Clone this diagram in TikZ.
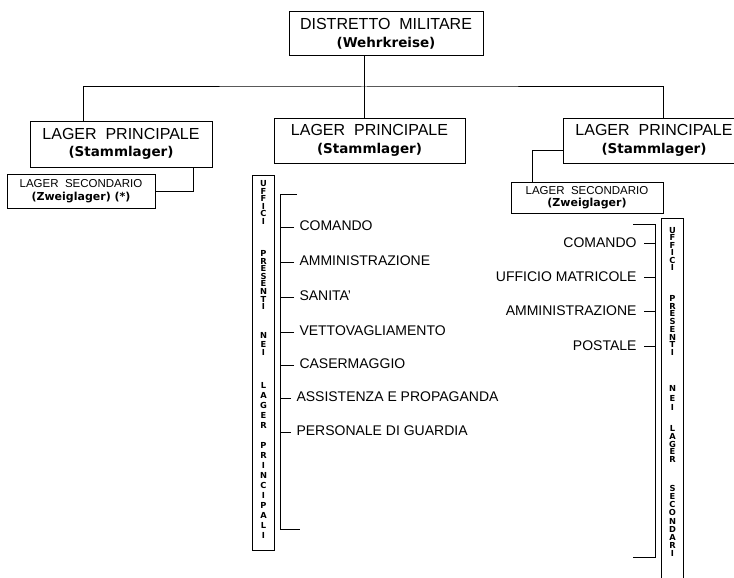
\documentclass[tikz,border=0pt]{standalone}
\usepackage{fontspec}
\setmainfont{Liberation Sans}
\newfontfamily\dejavu{DejaVu Sans}
\newcommand{\ger}[2][13.5]{{\dejavu\bfseries\fontsize{#1}{#1}\selectfont #2}}

\begin{document}
\begin{tikzpicture}[x=1pt,y=-1pt,line width=1pt,
      main box/.style={draw,inner sep=0pt,align=center,font=\fontsize{16}{17.5}\selectfont},
      small box/.style={draw,inner sep=0pt,align=center,font=\fontsize{11.5}{12.5}\selectfont},
      office/.style={inner sep=0pt,font=\fontsize{14}{16}\selectfont},
      column/.style={draw,inner sep=0pt,minimum width=22pt},
      letters/.style={inner sep=0pt,align=center,anchor=north,
        font=\dejavu\bfseries\fontsize{8.3}{#1}\selectfont}]

    \useasboundingbox (0,0) rectangle (734,578);

    % boxes
    \node[main box,minimum width=194pt,minimum height=44pt] (dm) at (386,34) {DISTRETTO\ \ MILITARE\\\ger{(Wehrkreise)}};
    \node[main box,minimum width=182pt,minimum height=46pt] (lp1) at (121,144) {LAGER\ \ PRINCIPALE\\\ger{(Stammlager)}};
    \node[main box,minimum width=191pt,minimum height=45pt] (lp2) at (369.5,140.5) {LAGER\ \ PRINCIPALE\\\ger{(Stammlager)}};
    \node[main box,minimum width=182pt,minimum height=45pt] (lp3) at (654,140.5) {LAGER\ \ PRINCIPALE\\\ger{(Stammlager)}};
    \node[small box,minimum width=148pt,minimum height=34pt] (ls1) at (81,191) {LAGER\ \ SECONDARIO\\\ger[11]{(Zweiglager) (*)}};
    \node[small box,minimum width=152pt,minimum height=31pt] (ls3) at (587,197.5) {LAGER\ \ SECONDARIO\\\ger[11]{(Zweiglager)}};

    \coordinate (hub) at (364,87);
    \draw (dm.south -| hub) -- (lp2.north -| hub);
    \draw ([xshift=-38pt]lp1.north) |- (hub) -| ([xshift=9pt]lp3.north);
    \draw (ls1.east) -| ([xshift=72pt]lp1.south);
    \draw ([yshift=-10pt]lp3.west) -| ([xshift=-55pt]ls3.north);

    % uffici nei lager principali
    \node[column,minimum height=375pt] (col2) at (263.5,362.5) {};
    \node[letters=7.6] (w21) at (263.5,180) {U\\F\\F\\I\\C\\I};
    \node[letters=7.6] (w22) at (263.5,250) {P\\R\\E\\S\\E\\N\\T\\I};
    \node[letters=8.5] (w23) at (263.5,332) {N\\E\\I};
    \node[letters=10] (w24) at (263.5,382) {L\\A\\G\\E\\R};
    \node[letters=10] (w25) at (263.5,442) {P\\R\\I\\N\\C\\I\\P\\A\\L\\I};

    \coordinate (b2t) at (280,194);
    \coordinate (b2b) at (280,529);
    \draw ([xshift=17pt]b2t) -- (b2t) -- (b2b) -- ([xshift=20pt]b2b);

    \node[office,anchor=base west] (c1) at (299,230) {COMANDO};
    \node[office,anchor=base west] (c2) at (299,265) {AMMINISTRAZIONE};
    \node[office,anchor=base west] (c3) at (299,300) {SANITA’};
    \node[office,anchor=base west] (c4) at (299,335) {VETTOVAGLIAMENTO};
    \node[office,anchor=base west] (c5) at (299,368) {CASERMAGGIO};
    \node[office,anchor=base west] (c6) at (296,401) {ASSISTENZA E PROPAGANDA};
    \node[office,anchor=base west] (c7) at (296,435) {PERSONALE DI GUARDIA};
    \foreach \n in {c1,c2,c3,c4,c5,c6,c7}
      \draw ([xshift=-5pt,yshift=3pt]\n.base west) -- ([yshift=3pt]\n.base west -| b2t);

    % uffici nei lager secondari
    \node[column,minimum height=362pt] (col3) at (672.5,399) {};
    \node[letters=7.4] (w31) at (672.5,227) {U\\F\\F\\I\\C\\I};
    \node[letters=7.7] (w32) at (672.5,295) {P\\R\\E\\S\\E\\N\\T\\I};
    \node[letters=9.5] (w33) at (672.5,385) {N\\E\\I};
    \node[letters=7.8] (w34) at (672.5,425) {L\\A\\G\\E\\R};
    \node[letters=8.1] (w35) at (672.5,485) {S\\E\\C\\O\\N\\D\\A\\R\\I};

    \coordinate (b3t) at (655,224);
    \coordinate (b3b) at (655,557);
    \draw ([xshift=-22pt]b3t) -- (b3t) -- (b3b) -- ([xshift=-22pt]b3b);

    \node[office,anchor=east] (r1) at (637,243) {COMANDO};
    \node[office,anchor=east] (r2) at (637,277) {UFFICIO MATRICOLE};
    \node[office,anchor=east] (r3) at (637,311) {AMMINISTRAZIONE};
    \node[office,anchor=east] (r4) at (637,346) {POSTALE};
    \foreach \n in {r1,r2,r3,r4}
      \draw ([xshift=7pt]\n.east) -- (\n.east -| b3t);
\end{tikzpicture}
\end{document}
